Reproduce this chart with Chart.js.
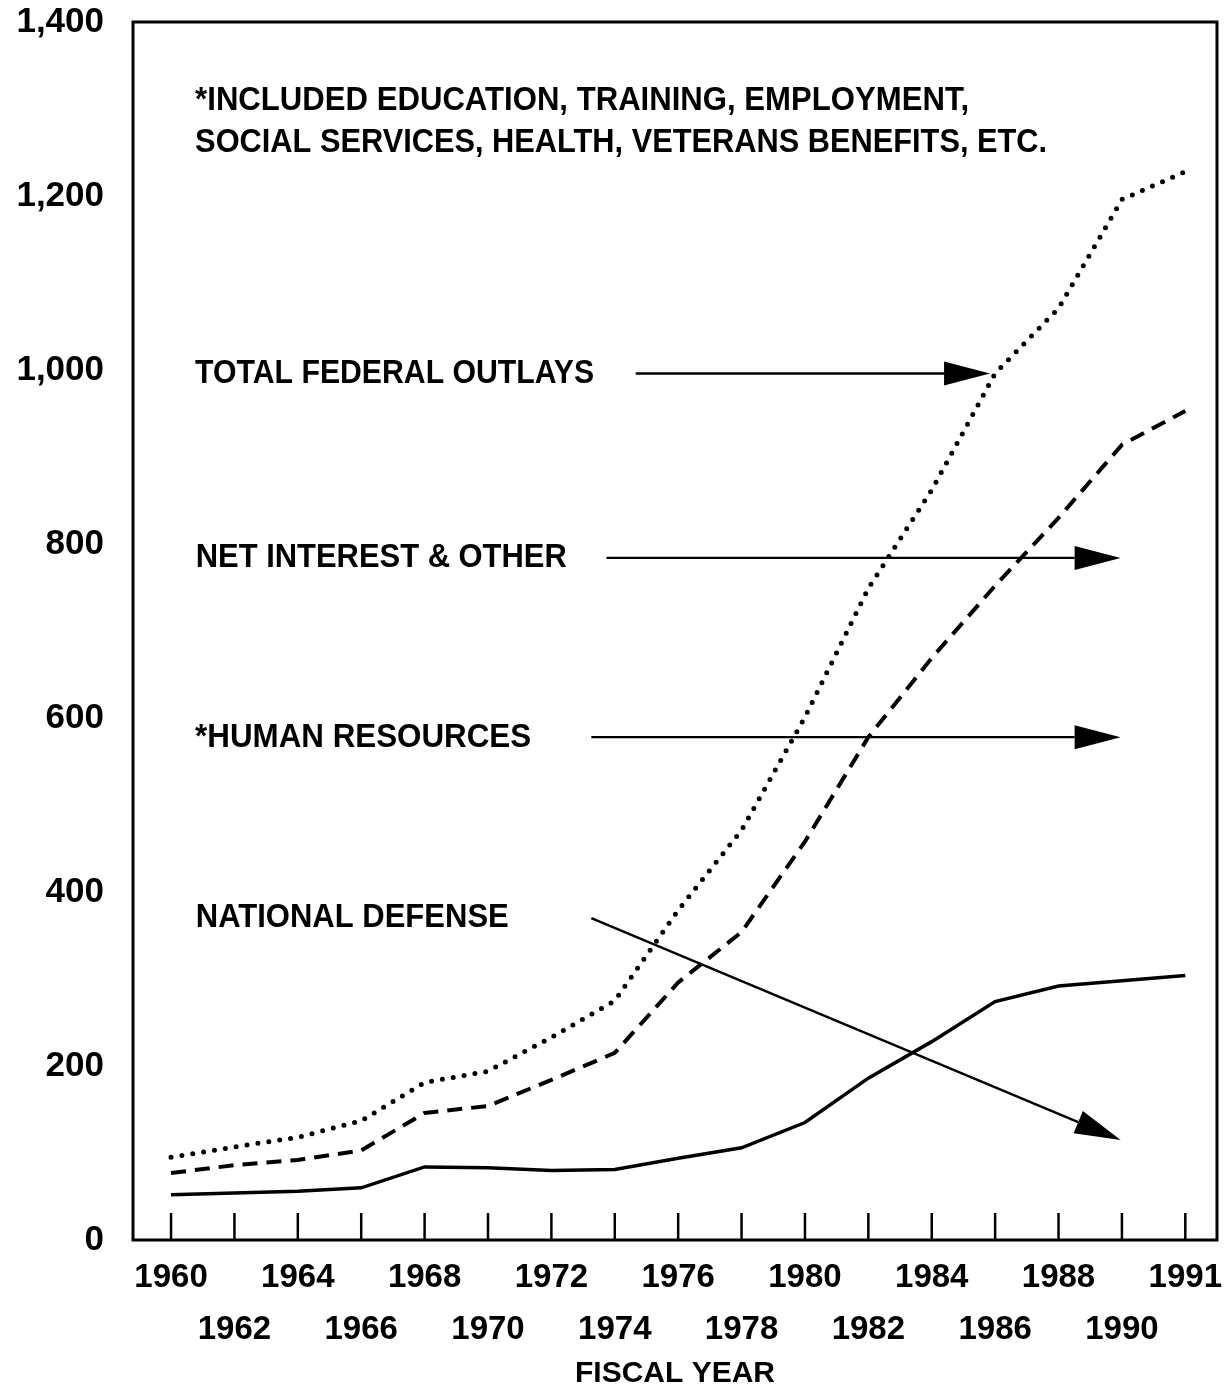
<!DOCTYPE html>
<html>
<head>
<meta charset="utf-8">
<script src="https://cdn.jsdelivr.net/npm/chart.js@4.4.1/dist/chart.umd.min.js"></script>
<style>
  html, body { margin: 0; padding: 0; background: #fff; }
  #wrap { width: 1230px; height: 1390px; }
</style>
</head>
<body>
<div id="wrap"><canvas id="chart" width="1230" height="1390"></canvas></div>
<script>
// Fiscal years on the axis (last step jumps to 1991)
const years = ["1960", "1962", "1964", "1966", "1968", "1970", "1972", "1974",
  "1976", "1978", "1980", "1982", "1984", "1986", "1988", "1990", "1991"];

// Outlays, billions of dollars (cumulative lines)
const nationalDefense = [52, 54, 56, 60, 84, 83, 80, 81, 94, 106, 135, 186, 228, 274, 292, 298, 304];
const defensePlusHuman = [77, 86, 92, 103, 146, 154, 184, 215, 296, 354, 458, 578, 669, 752, 830, 914, 953];
const totalOutlays = [95, 107, 118, 137, 181, 194, 233, 275, 379, 471, 601, 749, 862, 996, 1071, 1196, 1228];

const yTicks = [0, 200, 400, 600, 800, 1000, 1200, 1400];

const noteLines = [
  "*INCLUDED EDUCATION, TRAINING, EMPLOYMENT,",
  "SOCIAL SERVICES, HEALTH, VETERANS BENEFITS, ETC."
];
const calloutLabels = ["TOTAL FEDERAL OUTLAYS", "NET INTEREST & OTHER", "*HUMAN RESOURCES", "NATIONAL DEFENSE"];

const FONT = "'Liberation Sans', Arial, Helvetica, sans-serif";

// text + arrow placement in data units (x = year index, y = billions)
const notePos = [{ x: 0.38, y: 1310, w: 774 }, { x: 0.38, y: 1261, w: 852 }];
const callouts = [
  { x: 0.38, y: 996, w: 399, from: [7.33, 996], to: [12.92, 996] },
  { x: 0.39, y: 784, w: 371, from: [6.87, 784], to: [14.98, 784] },
  { x: 0.38, y: 578, w: 336, from: [6.63, 578], to: [14.98, 578] },
  { x: 0.39, y: 370, w: 313, from: [6.63, 370], to: [14.98, 115] }
];

const toPoints = (vals) => vals.map((v, i) => ({ x: i, y: v }));

function drawArrow(ctx, x1, y1, x2, y2) {
  const ang = Math.atan2(y2 - y1, x2 - x1);
  const headLen = 46, headHalf = 12;
  const bx = x2 - headLen * Math.cos(ang);
  const by = y2 - headLen * Math.sin(ang);
  ctx.beginPath();
  ctx.moveTo(x1, y1);
  ctx.lineTo(bx, by);
  ctx.stroke();
  ctx.beginPath();
  ctx.moveTo(x2, y2);
  ctx.lineTo(bx - headHalf * Math.sin(ang), by + headHalf * Math.cos(ang));
  ctx.lineTo(bx + headHalf * Math.sin(ang), by - headHalf * Math.cos(ang));
  ctx.closePath();
  ctx.fill();
}

// frame, inward ticks, notes and arrows
const decorations = {
  id: "decorations",
  afterDatasetsDraw(chart) {
    const { ctx, chartArea: a, scales: { x, y } } = chart;
    ctx.save();
    ctx.strokeStyle = "#000";
    ctx.fillStyle = "#000";

    // box around the plot
    ctx.lineWidth = 3;
    ctx.strokeRect(a.left, a.top, a.right - a.left, a.bottom - a.top);

    // tick marks pointing up into the plot
    ctx.lineWidth = 2.5;
    years.forEach((_, i) => {
      const px = x.getPixelForValue(i);
      ctx.beginPath();
      ctx.moveTo(px, a.bottom);
      ctx.lineTo(px, a.bottom - 27);
      ctx.stroke();
    });

    // notes (squeezed to the width of the original lettering)
    ctx.font = "bold 34px " + FONT;
    ctx.textBaseline = "middle";
    ctx.textAlign = "left";
    noteLines.forEach((t, i) => {
      const p = notePos[i];
      ctx.fillText(t, x.getPixelForValue(p.x), y.getPixelForValue(p.y), p.w);
    });
    calloutLabels.forEach((t, i) => {
      const c = callouts[i];
      ctx.fillText(t, x.getPixelForValue(c.x), y.getPixelForValue(c.y), c.w);
    });

    // arrows
    ctx.lineWidth = 2.4;
    callouts.forEach((c) => {
      drawArrow(ctx,
        x.getPixelForValue(c.from[0]), y.getPixelForValue(c.from[1]),
        x.getPixelForValue(c.to[0]), y.getPixelForValue(c.to[1]));
    });
    ctx.restore();
  }
};

new Chart(document.getElementById("chart"), {
  type: "line",
  data: {
    datasets: [
      {
        label: "Total federal outlays",
        data: toPoints(totalOutlays),
        borderColor: "#000",
        borderWidth: 5,
        borderDash: [0, 11],
        borderCapStyle: "round",
        pointRadius: 0,
        tension: 0
      },
      {
        label: "Human resources",
        data: toPoints(defensePlusHuman),
        borderColor: "#000",
        borderWidth: 4,
        borderDash: [15, 9],
        pointRadius: 0,
        tension: 0
      },
      {
        label: "National defense",
        data: toPoints(nationalDefense),
        borderColor: "#000",
        borderWidth: 3.5,
        pointRadius: 0,
        tension: 0
      }
    ]
  },
  options: {
    responsive: false,
    animation: false,
    layout: { padding: { top: 22, right: 13, left: 0, bottom: 0 } },
    plugins: {
      legend: { display: false },
      tooltip: { enabled: false }
    },
    scales: {
      x: {
        type: "linear",
        min: -0.6,
        max: 16.5,
        afterBuildTicks: (scale) => {
          scale.ticks = years.map((_, i) => ({ value: i }));
        },
        afterFit: (scale) => {
          scale.height = 150;
          scale.paddingLeft = 0;
          scale.paddingRight = 0;
        },
        grid: { display: false, drawTicks: false },
        border: { display: false },
        ticks: {
          color: "#000",
          padding: 12,
          maxRotation: 0,
          autoSkip: false,
          font: { family: FONT, size: 33, weight: "bold", lineHeight: 1.58 },
          // alternate labels between two rows
          callback: (v) => (v % 2 === 0 ? [years[v], ""] : ["", years[v]])
        },
        title: {
          display: true,
          text: "FISCAL YEAR",
          color: "#000",
          padding: { top: 0, bottom: 0 },
          font: { family: FONT, size: 30, weight: "bold", lineHeight: 1.1 }
        }
      },
      y: {
        min: 0,
        max: 1400,
        afterBuildTicks: (scale) => {
          scale.ticks = yTicks.map((v) => ({ value: v }));
        },
        afterFit: (scale) => {
          scale.width = 133;
          scale.paddingTop = 0;
          scale.paddingBottom = 0;
        },
        grid: { display: false, drawTicks: false },
        border: { display: false },
        ticks: {
          color: "#000",
          padding: 29,
          font: { family: FONT, size: 35, weight: "bold" },
          callback: (v) => v.toLocaleString("en-US")
        }
      }
    }
  },
  plugins: [decorations]
});
</script>
</body>
</html>
